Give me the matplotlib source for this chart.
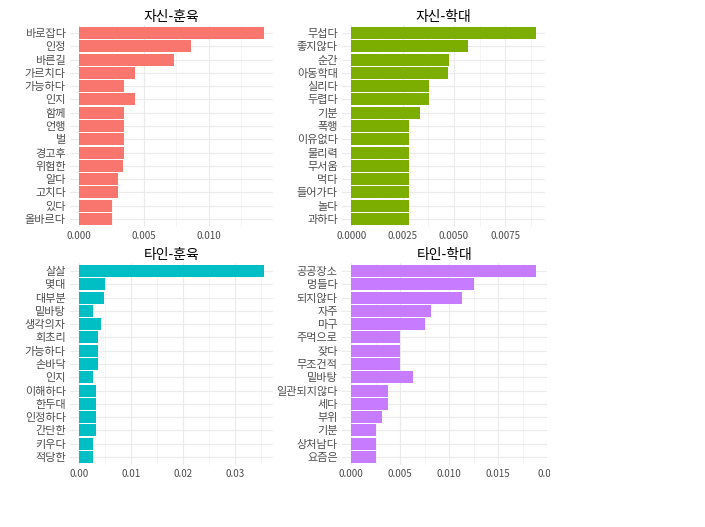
import matplotlib
matplotlib.use("Agg")
import matplotlib.pyplot as plt
from matplotlib.ticker import MultipleLocator, FixedLocator
from matplotlib.transforms import Bbox, TransformedBbox

plt.rcParams['font.family'] = ['Noto Sans CJK KR', 'DejaVu Sans']

# 자신-훈육
self_disc_words = ['바로잡다', '인정', '바른길', '가르치다', '가능하다', '인지', '함께', '언행',
                   '벌', '경고후', '위험한', '알다', '고치다', '있다', '올바르다']
self_disc_vals = [0.01423, 0.00862, 0.00728, 0.00431, 0.00346, 0.00431, 0.00346, 0.00346,
                  0.00346, 0.00346, 0.00338, 0.00300, 0.00300, 0.00256, 0.00256]

# 자신-학대
self_abuse_words = ['무섭다', '좋지않다', '순간', '아동학대', '실리다', '두렵다', '기분', '폭행',
                    '이유없다', '물리력', '무서움', '먹다', '들어가다', '놀다', '과하다']
self_abuse_vals = [0.00899, 0.00568, 0.00476, 0.00471, 0.00381, 0.00381, 0.00336, 0.00281,
                   0.00281, 0.00281, 0.00281, 0.00281, 0.00281, 0.00281, 0.00281]

# 타인-훈육
other_disc_words = ['살살', '몇대', '대부분', '밑바탕', '생각의자', '회초리', '가능하다', '손바닥',
                    '인지', '이해하다', '한두대', '인정하다', '간단한', '키우다', '적당한']
other_disc_vals = [0.0355, 0.00499, 0.00480, 0.00269, 0.00422, 0.00365, 0.00365, 0.00352,
                   0.00269, 0.00326, 0.00326, 0.00326, 0.00326, 0.00269, 0.00269]

# 타인-학대
other_abuse_words = ['공공장소', '멍들다', '되지않다', '자주', '마구', '주먹으로', '잦다', '무조건적',
                     '밑바탕', '일관되지않다', '세다', '부위', '기분', '상처남다', '요즘은']
other_abuse_vals = [0.01889, 0.01258, 0.01132, 0.00818, 0.00753, 0.00498, 0.00498, 0.00498,
                    0.00631, 0.00378, 0.00378, 0.00314, 0.00256, 0.00256, 0.00256]

panels = [
    ('자신-훈육', self_disc_words, self_disc_vals, '#F8766D', 0.005, ['0.000', '0.005', '0.010']),
    ('자신-학대', self_abuse_words, self_abuse_vals, '#7CAE00', 0.0025,
     ['0.0000', '0.0025', '0.0050', '0.0075']),
    ('타인-훈육', other_disc_words, other_disc_vals, '#00BFC4', 0.01, ['0.00', '0.01', '0.02', '0.03']),
    ('타인-학대', other_abuse_words, other_abuse_vals, '#C77CFF', 0.005,
     ['0.000', '0.005', '0.010', '0.015', '0.02']),
]

W, H = 705, 527
fig = plt.figure(figsize=(W / 100, H / 100), dpi=100)
boxes = [(70, 25, 273, 227), (342, 25, 545, 227), (70, 263, 273, 465), (342, 263, 547, 465)]

for (title, words, vals, color, step, labels), (x0, y0, x1, y1) in zip(panels, boxes):
    ax = fig.add_axes([x0 / W, 1 - y1 / H, (x1 - x0) / W, (y1 - y0) / H])
    n = len(words)
    ypos = list(range(n))[::-1]
    ax.barh(ypos, vals, height=0.9, color=color, zorder=2)
    vmax = max(vals)
    ax.set_xlim(-0.05 * vmax, 1.05 * vmax)
    if labels[-1] == '0.02':
        ax.set_xlim(-0.05 * vmax, 0.02)
    ax.set_ylim(-0.6, n - 1 + 0.6)
    ticks = [i * step for i in range(len(labels))]
    ax.xaxis.set_major_locator(FixedLocator(ticks))
    ax.xaxis.set_minor_locator(MultipleLocator(step / 2))
    ax.set_yticks(ypos)
    ax.set_yticklabels(words, fontsize=8)
    ax.set_xticks(ticks)
    ax.set_xticklabels(labels, fontsize=7)
    for s in ax.spines.values():
        s.set_visible(False)
    ax.tick_params(axis='both', which='both', length=0, labelcolor='#4d4d4d', pad=3)
    ax.grid(True, which='major', axis='both', color='#ebebeb', linewidth=0.8, zorder=0)
    ax.grid(True, which='minor', axis='x', color='#f2f2f2', linewidth=0.5, zorder=0)
    ax.set_axisbelow(True)
    ax.set_title(title, fontsize=10, pad=3)
    for lab in ax.get_xticklabels():
        lab.set_clip_box(TransformedBbox(Bbox([[0, 0], [550 / W, 1]]), fig.transFigure))
        lab.set_clip_on(True)

fig.savefig('out.png', dpi=100, facecolor='white')
